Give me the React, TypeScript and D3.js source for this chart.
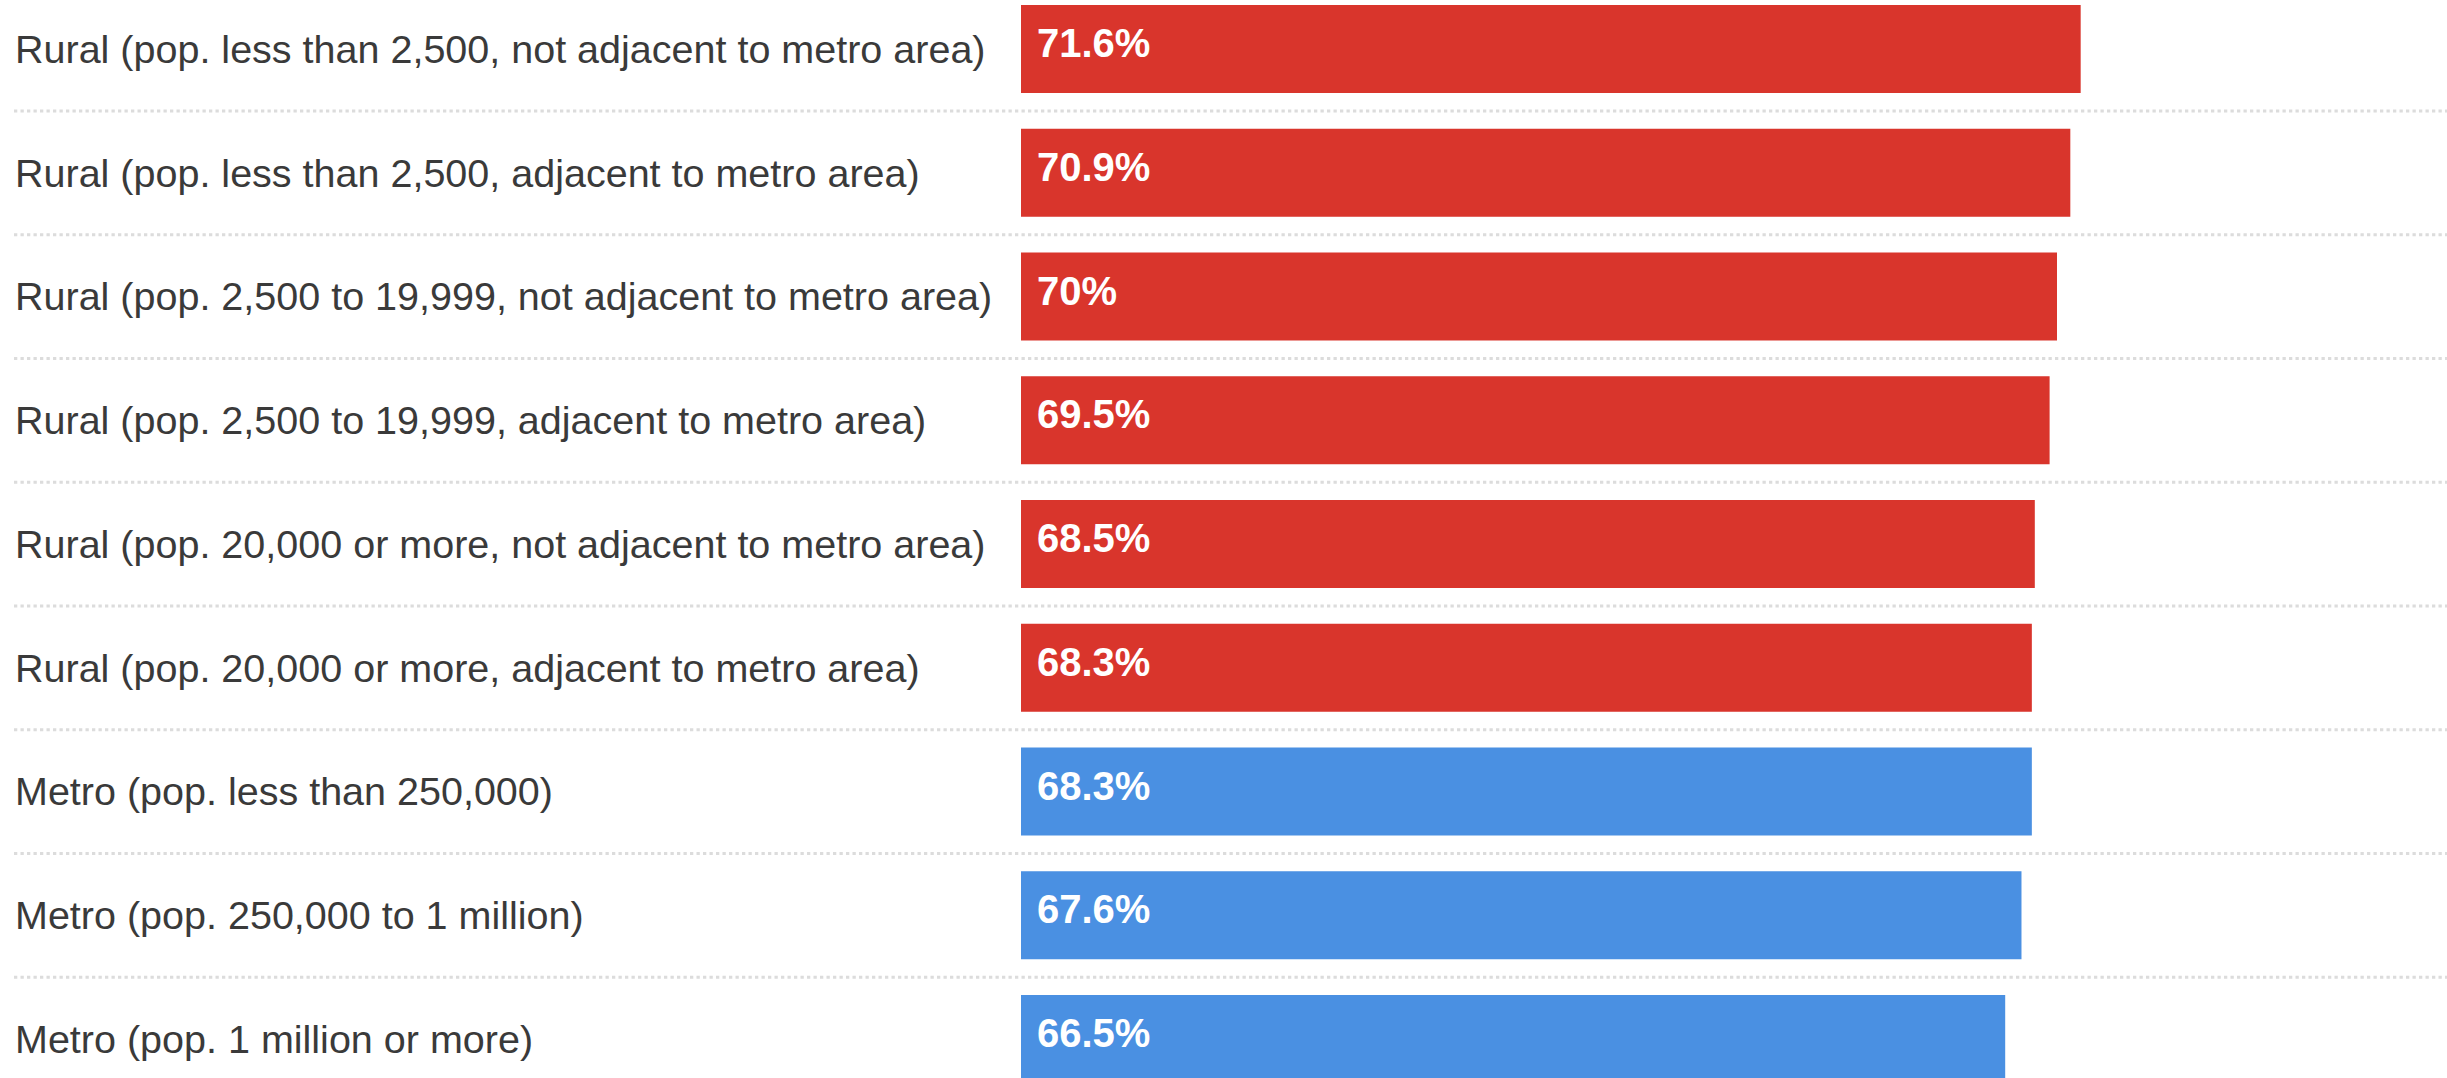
import React, { useEffect, useRef } from "react";
import * as d3 from "d3";

const categories = [
  "Rural (pop. less than 2,500, not adjacent to metro area)",
  "Rural (pop. less than 2,500, adjacent to metro area)",
  "Rural (pop. 2,500 to 19,999, not adjacent to metro area)",
  "Rural (pop. 2,500 to 19,999, adjacent to metro area)",
  "Rural (pop. 20,000 or more, not adjacent to metro area)",
  "Rural (pop. 20,000 or more, adjacent to metro area)",
  "Metro (pop. less than 250,000)",
  "Metro (pop. 250,000 to 1 million)",
  "Metro (pop. 1 million or more)",
];
const values = [71.6, 70.9, 70, 69.5, 68.5, 68.3, 68.3, 67.6, 66.5];
const valueLabels = ["71.6%", "70.9%", "70%", "69.5%", "68.5%", "68.3%", "68.3%", "67.6%", "66.5%"];
const groups = ["rural", "rural", "rural", "rural", "rural", "rural", "metro", "metro", "metro"];

const WIDTH = 2447;
const HEIGHT = 1078;

export default function App() {
  const svgRef = useRef<SVGSVGElement>(null);

  useEffect(() => {
    document.body.style.margin = "0";
    if (!svgRef.current) return;
    const svg = d3.select(svgRef.current);
    svg.selectAll("*").remove();

    const step = 123.75;
    const inner = 35.75 / step;
    const y = d3
      .scaleBand<string>()
      .domain(categories)
      .range([5 - (step * inner) / 2, 5 - (step * inner) / 2 + step * categories.length])
      .paddingInner(inner)
      .paddingOuter(inner / 2);

    const x = d3.scaleLinear().domain([0, 100]).range([1021, 1021 + 1480]);

    const color = d3.scaleOrdinal<string, string>().domain(["rural", "metro"]).range(["#d9352c", "#4a90e2"]);

    const rows = svg
      .selectAll("g.row")
      .data(categories)
      .join("g")
      .attr("class", "row");

    // dotted separators below each row
    rows
      .append("line")
      .attr("x1", 14)
      .attr("x2", WIDTH)
      .attr("y1", (d) => (y(d) as number) + y.bandwidth() + (step - y.bandwidth()) / 2)
      .attr("y2", (d) => (y(d) as number) + y.bandwidth() + (step - y.bandwidth()) / 2)
      .attr("stroke", "#dcdcdc")
      .attr("stroke-width", 3)
      .attr("stroke-dasharray", "3.3 3.2");

    rows
      .append("rect")
      .attr("x", x(0))
      .attr("y", (d) => y(d) as number)
      .attr("width", (d, i) => x(values[i]) - x(0))
      .attr("height", y.bandwidth())
      .attr("fill", (d, i) => color(groups[i]));

    rows
      .append("text")
      .attr("x", 15)
      .attr("y", (d) => (y(d) as number) + y.bandwidth() / 2)
      .attr("dy", "0.35em")
      .attr("font-family", "'Liberation Sans', Arial, sans-serif")
      .attr("font-size", 39.5)
      .attr("fill", "#3a3a3a")
      .text((d) => d);

    rows
      .append("text")
      .attr("x", x(0) + 16)
      .attr("y", (d) => (y(d) as number) + 52)
      .attr("font-family", "'Liberation Sans', Arial, sans-serif")
      .attr("font-size", 40)
      .attr("font-weight", "bold")
      .attr("fill", "#fff")
      .text((d, i) => valueLabels[i]);
  }, []);

  return (
    <svg ref={svgRef} width={WIDTH} height={HEIGHT} style={{ display: "block", background: "#fff" }} />
  );
}
